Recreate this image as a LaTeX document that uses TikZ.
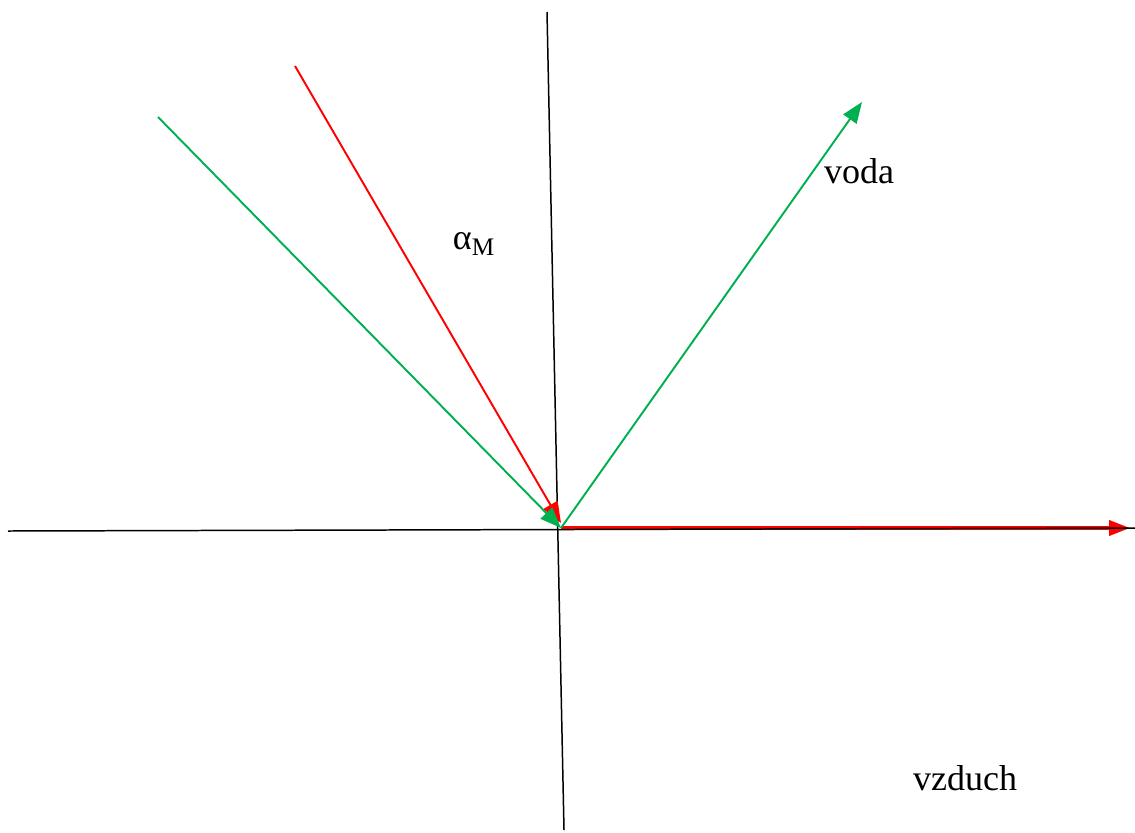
\documentclass[tikz,border=0pt]{standalone}
\usepackage{fontspec}
\setmainfont{Liberation Serif}
\usetikzlibrary{arrows.meta}
\definecolor{grn}{RGB}{0,176,80}
\tikzset{
  axis/.style={draw=black, line width=0.85pt},
  ray/.style={line width=1.1pt, -{Triangle[length=0.42cm, width=0.32cm]}},
  lbl/.style={font=\fontsize{20.5}{24}\selectfont, inner sep=0pt}
}

\begin{document}
\begin{tikzpicture}[x=0.02cm, y=-0.02cm]
  \useasboundingbox (0,0) rectangle (1135,832);
  % axes
  \coordinate (xl) at (8,531);
  \coordinate (xr) at (1135,528);
  \coordinate (yt) at (547,12);
  \coordinate (yb) at (564,830);
  \coordinate (O) at (561,528);
  \coordinate (Or) at (561,523);
  \coordinate (r1) at (295,66);
  \coordinate (g1) at (158,117);
  \coordinate (g2) at (862,102);
  \coordinate (r2) at (1130,528);
  \draw[ray, red, line width=2.2pt, -{Triangle[length=0.42cm, width=0.3cm]}] (O) -- (r2);
  \draw[axis] (xl) -- (xr);
  \draw[axis] (yt) -- (yb);
  % rays
  \draw[ray, red] (r1) -- (Or);
  \draw[ray, grn] (g1) -- (O);
  \draw[ray, grn] (O) -- (g2);
  % labels
  \node[lbl] (voda) at (859,171) {voda};
  \node[lbl] (alfa) at (474,244) {α\textsubscript{M}};
  \node[lbl] (vzduch) at (965,778) {vzduch};
\end{tikzpicture}
\end{document}
